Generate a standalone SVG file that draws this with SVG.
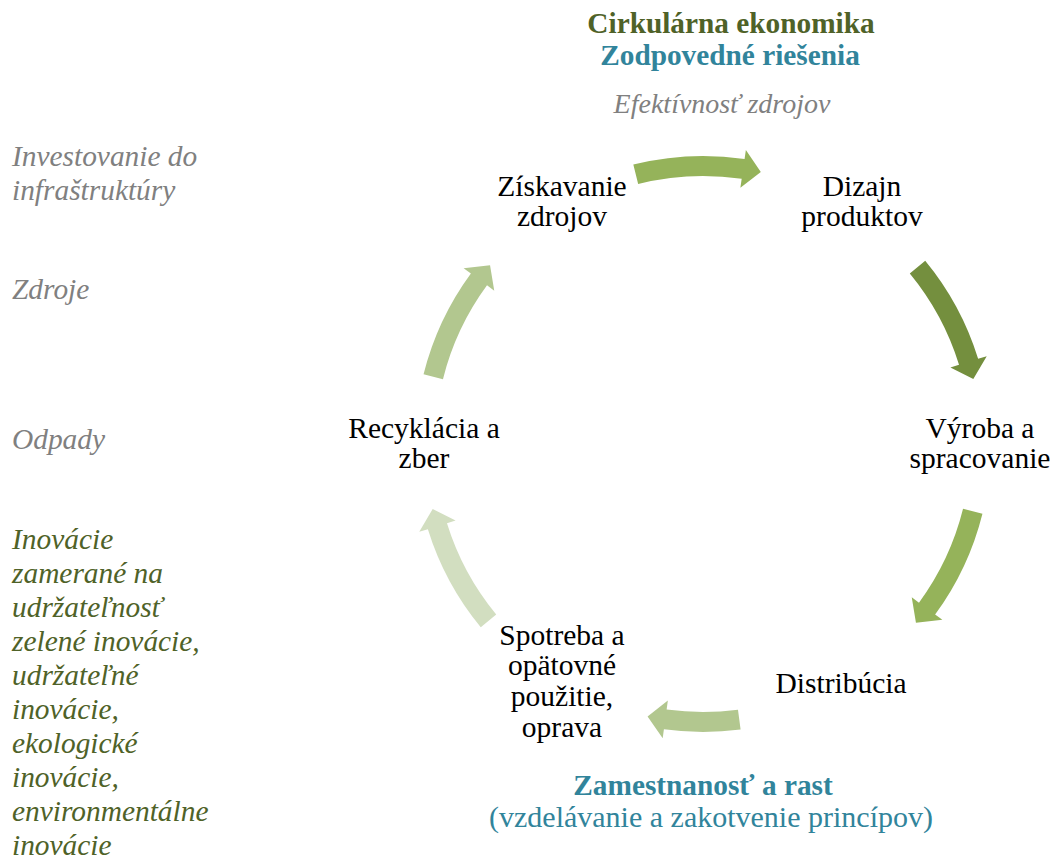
<svg xmlns="http://www.w3.org/2000/svg" width="1053" height="863" viewBox="0 0 1053 863">
<style>
text{font-family:'Liberation Serif','Tinos','DejaVu Serif',serif}
.n{font-size:29.5px;fill:#000;text-anchor:middle}
.t{font-size:29.3px;font-weight:bold;text-anchor:middle}
.g{font-size:29.4px;font-style:italic;fill:#808080}
.l{font-size:29.4px;font-style:italic;fill:#4f6228}
</style>
<defs>
<path id="arr" d="M 280.62,-64.79 A 288 288 0 0 1 284.22,46.54 L 293.10,48.00 L 270.87,62.54 L 255.60,41.85 L 264.48,43.31 A 268 268 0 0 0 261.13,-60.29 Z"/>
<path id="arrs" d="M 284.05,-47.53 A 288 288 0 0 1 286.53,29.10 L 295.48,30.01 L 274.19,45.88 L 257.67,26.17 L 266.63,27.08 A 268 268 0 0 0 264.33,-44.23 Z"/>
</defs>
<rect width="1053" height="863" fill="#fff"/>
<g id="titles">
<text class="t" x="731" y="33" fill="#4f6228">Cirkulárna ekonomika</text>
<text class="t" x="730" y="65" fill="#31849b">Zodpovedné riešenia</text>
<text class="g" x="722" y="113" text-anchor="middle" style="font-size:28px">Efektívnosť zdrojov</text>
<text class="t" x="703" y="795" fill="#31849b">Zamestnanosť a rast</text>
<text class="n" x="711" y="827" style="fill:#31849b;font-size:30px">(vzdelávanie a zakotvenie princípov)</text>
</g>
<g id="side">
<text class="g" x="12" y="166">Investovanie do</text>
<text class="g" x="12" y="200">infraštruktúry</text>
<text class="g" x="12" y="299">Zdroje</text>
<text class="g" x="12" y="449">Odpady</text>
<text class="l" x="12" y="549">Inovácie</text>
<text class="l" x="12" y="583">zamerané na</text>
<text class="l" x="12" y="617">udržateľnosť</text>
<text class="l" x="12" y="651">zelené inovácie,</text>
<text class="l" x="12" y="685">udržateľné</text>
<text class="l" x="12" y="719">inovácie,</text>
<text class="l" x="12" y="753">ekologické</text>
<text class="l" x="12" y="787">inovácie,</text>
<text class="l" x="12" y="821">environmentálne</text>
<text class="l" x="12" y="855">inovácie</text>
</g>
<g id="connectors">
<use href="#arr" transform="translate(703,444) rotate(-91)" fill="#95b35a"/>
<use href="#arr" transform="translate(703,444) rotate(-26.5)" fill="#748f3e"/>
<use href="#arr" transform="translate(703,444) rotate(27)" fill="#95b35a"/>
<use href="#arrs" transform="translate(703,444) rotate(92)" fill="#b2c78f"/>
<use href="#arr" transform="translate(703,444) rotate(153.5)" fill="#d2dec0"/>
<use href="#arr" transform="translate(703,444) rotate(-153)" fill="#b2c78f"/>
</g>
<g id="node-ziskavanie"><text class="n" x="562" y="196">Získavanie</text><text class="n" x="562" y="226">zdrojov</text></g>
<g id="node-dizajn"><text class="n" x="862" y="196">Dizajn</text><text class="n" x="862" y="226">produktov</text></g>
<g id="node-vyroba"><text class="n" x="980" y="438">Výroba a</text><text class="n" x="980" y="468">spracovanie</text></g>
<g id="node-distribucia"><text class="n" x="841" y="693">Distribúcia</text></g>
<g id="node-spotreba"><text class="n" x="562" y="645">Spotreba a</text><text class="n" x="562" y="675">opätovné</text><text class="n" x="562" y="706">použitie,</text><text class="n" x="562" y="737">oprava</text></g>
<g id="node-recyklacia"><text class="n" x="424" y="438">Recyklácia a</text><text class="n" x="424" y="468">zber</text></g>
</svg>
